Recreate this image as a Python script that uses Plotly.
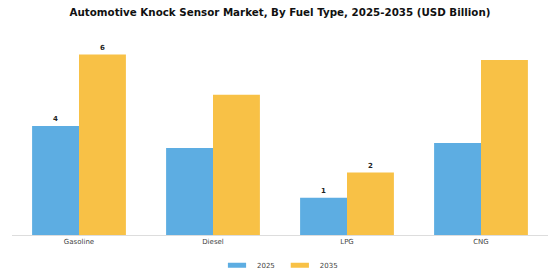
import plotly.graph_objects as go

categories = ["Gasoline", "Diesel", "LPG", "CNG"]
years = ["2025", "2035"]
values_2025 = [3.76, 3.0, 1.28, 3.17]
values_2035 = [6.22, 4.83, 2.15, 6.03]
labeled_categories = ["Gasoline", "LPG"]
colors = {"2025": "#5DADE2", "2035": "#F8C146"}

def labels(vals):
    return [f"{v:.0f}" if c in labeled_categories else "" for c, v in zip(categories, vals)]

fig = go.Figure()
for yr, vals in zip(years, [values_2025, values_2035]):
    fig.add_trace(go.Bar(
        x=categories, y=vals, name=yr, showlegend=False,
        marker=dict(color=colors[yr], line=dict(width=0)),
        text=labels(vals), textposition="outside",
        textfont=dict(family="DejaVu Sans", size=7, color="#222222", weight="bold"),
        cliponaxis=False,
    ))
for yr in years:
    fig.add_trace(go.Scatter(
        x=[None], y=[None], name=yr, mode="markers",
        marker=dict(symbol="line-ew", size=13, color=colors[yr],
                    line=dict(width=5, color=colors[yr])),
    ))

fig.update_layout(
    width=560, height=280,
    margin=dict(l=12, r=12, t=40, b=45, autoexpand=False),
    paper_bgcolor="white", plot_bgcolor="white",
    barmode="group", bargap=0.3, bargroupgap=0,
    title=dict(text="<b>Automotive Knock Sensor Market, By Fuel Type, 2025-2035 (USD Billion)</b>",
               x=0.5, xanchor="center", y=0.955, yanchor="middle",
               font=dict(family="DejaVu Sans", size=10.3, color="#111111")),
    xaxis=dict(showline=True, linecolor="#dddddd", linewidth=1, ticks="",
               tickfont=dict(family="DejaVu Sans", size=7, color="#444444")),
    yaxis=dict(visible=False, range=[0, 6.72]),
    legend=dict(orientation="h", x=0.5, xanchor="center", y=-0.155, yanchor="middle",
                font=dict(family="DejaVu Sans", size=7, color="#444444"),
                itemwidth=30, traceorder="normal"),
    showlegend=True,
)
fig.write_html("out.html")
